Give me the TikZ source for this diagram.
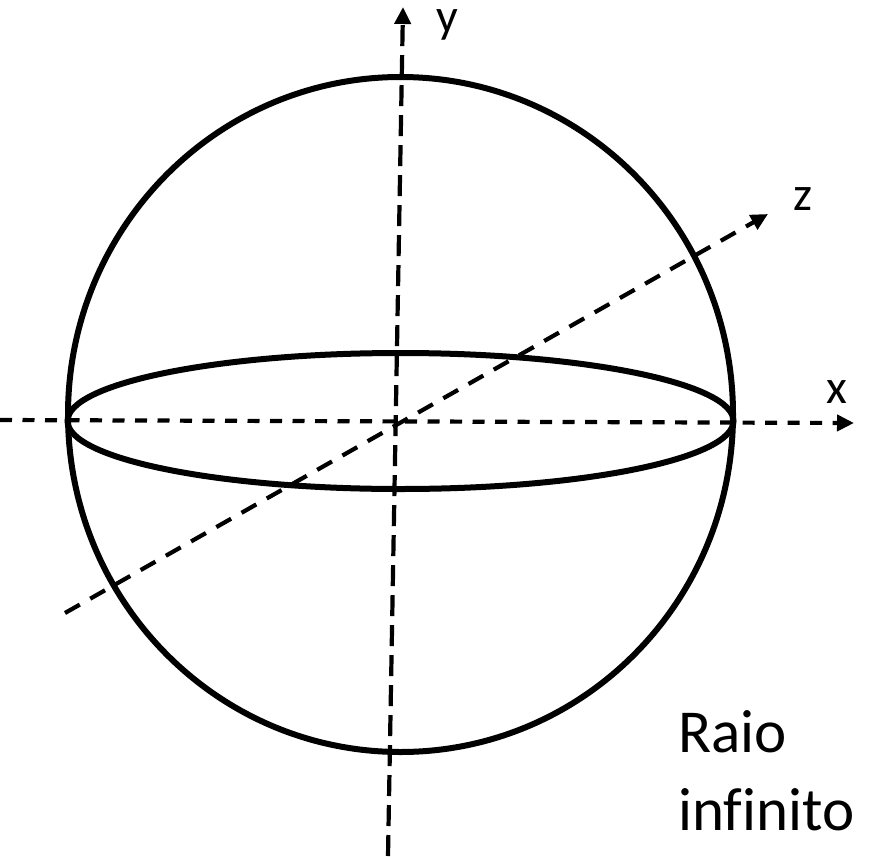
\documentclass[tikz,border=0pt]{standalone}
\usepackage{fontspec}
\setmainfont{Carlito}[Ligatures=NoCommon]
\usetikzlibrary{arrows.meta}

\begin{document}
\begin{tikzpicture}[x=1pt, y=-1pt,
  rim/.style={line width=6pt},
  axis/.style={line width=4.2pt, -{Triangle[length=17pt,width=16pt]}},
  lbl/.style={inner sep=0pt, anchor=base, font=\fontsize{48}{58}\selectfont},
  note/.style={inner sep=0pt, anchor=base west, font=\fontsize{61}{78}\selectfont}]
  \useasboundingbox (0,0) rectangle (869,856);

  % Sphere centre and equator centre
  \coordinate (S) at (400.5,414.5);
  \coordinate (E) at (400.5,421);

  % Axis ends
  \coordinate (x0) at (0,420);
  \coordinate (x1) at (854,423);
  \coordinate (y0) at (388,856);
  \coordinate (y1) at (403,7);
  \coordinate (z0) at (65,613);
  \coordinate (z1) at (768,214);

  % Sphere outline and equator
  \draw[rim] (S) ellipse [x radius=332.5, y radius=337.5];
  \draw[rim] (E) ellipse [x radius=333, y radius=68];

  % Axes
  \draw[axis, dash pattern=on 12pt off 10.5pt] (x0) -- (x1);
  \draw[axis, dash pattern=on 21pt off 9pt] (y0) -- (y1);
  \draw[axis, dash pattern=on 17pt off 12pt] (z0) -- (z1);

  % Labels
  \node[lbl] (ylbl) at (447,33) {y};
  \node[lbl] (zlbl) at (803,210) {z};
  \node[lbl] (xlbl) at (837,403) {x};
  \node[note] (raio) at (678,752) {Raio};
  \node[note] (infin) at (678,830) {inf\kern0pt inito};
\end{tikzpicture}
\end{document}
